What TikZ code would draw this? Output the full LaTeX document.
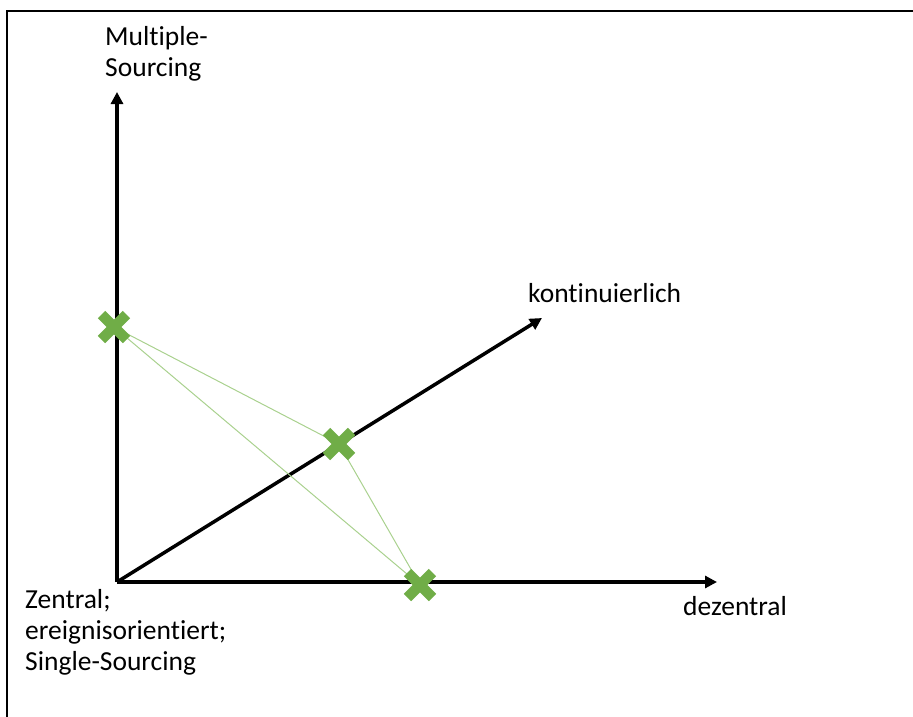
\documentclass[tikz,border=0pt]{standalone}
\usepackage{fontspec}
\setmainfont{Carlito}[Ligatures=NoCommon]
\usetikzlibrary{arrows.meta}
\definecolor{xgreen}{HTML}{70AD47}
\definecolor{lgreen}{HTML}{A9D18E}
\tikzset{
  axis/.style={line width=3.5pt, -{Triangle[length=12pt,width=12pt]}},
  lbl/.style={inner sep=0pt, anchor=base west, font=\fontsize{27.5}{31}\selectfont, align=left},
  link/.style={lgreen, line width=1pt},
  xmark/.style={xgreen, line width=10.5pt},
}
\begin{document}
\begin{tikzpicture}[x=1pt,y=-1pt]
\useasboundingbox (0,0) rectangle (913,717);
% frame (top and left edges visible)
\draw[line width=2pt] (6.5,717) -- (6.5,11) -- (913,11);
% axes
\coordinate (O) at (117,582);
\coordinate (Ytip) at (117,92);
\coordinate (Xtip) at (717,582);
\coordinate (Dtip) at (542,318);
\draw[axis] (O) -- (Ytip);
\draw[axis] (O) -- (Xtip);
\draw[axis] (O) -- (Dtip);
% points
\coordinate (P1) at (114,327);
\coordinate (P2) at (339,444);
\coordinate (P3) at (420,585);
\draw[link] (P1) -- (P2);
\draw[link] (P1) -- (P3);
\draw[link] (P2) -- (P3);
\foreach \p in {P1,P2,P3}{
  \draw[xmark] ([shift={(-12.5,-12.5)}]\p) -- ([shift={(12.5,12.5)}]\p);
  \draw[xmark] ([shift={(-12.5,12.5)}]\p) -- ([shift={(12.5,-12.5)}]\p);
}
% labels (base anchor = last line)
\node[lbl] (ml) at (105,77) {Multiple-\\Sourcing};
\node[lbl] (kl) at (528,302) {kontinuierlich};
\node[lbl] (dl) at (683,615) {dezentral};
\node[lbl] (zl) at (25,670) {Zentral;\\ereignisorientiert;\\Single-Sourcing};
\end{tikzpicture}
\end{document}
